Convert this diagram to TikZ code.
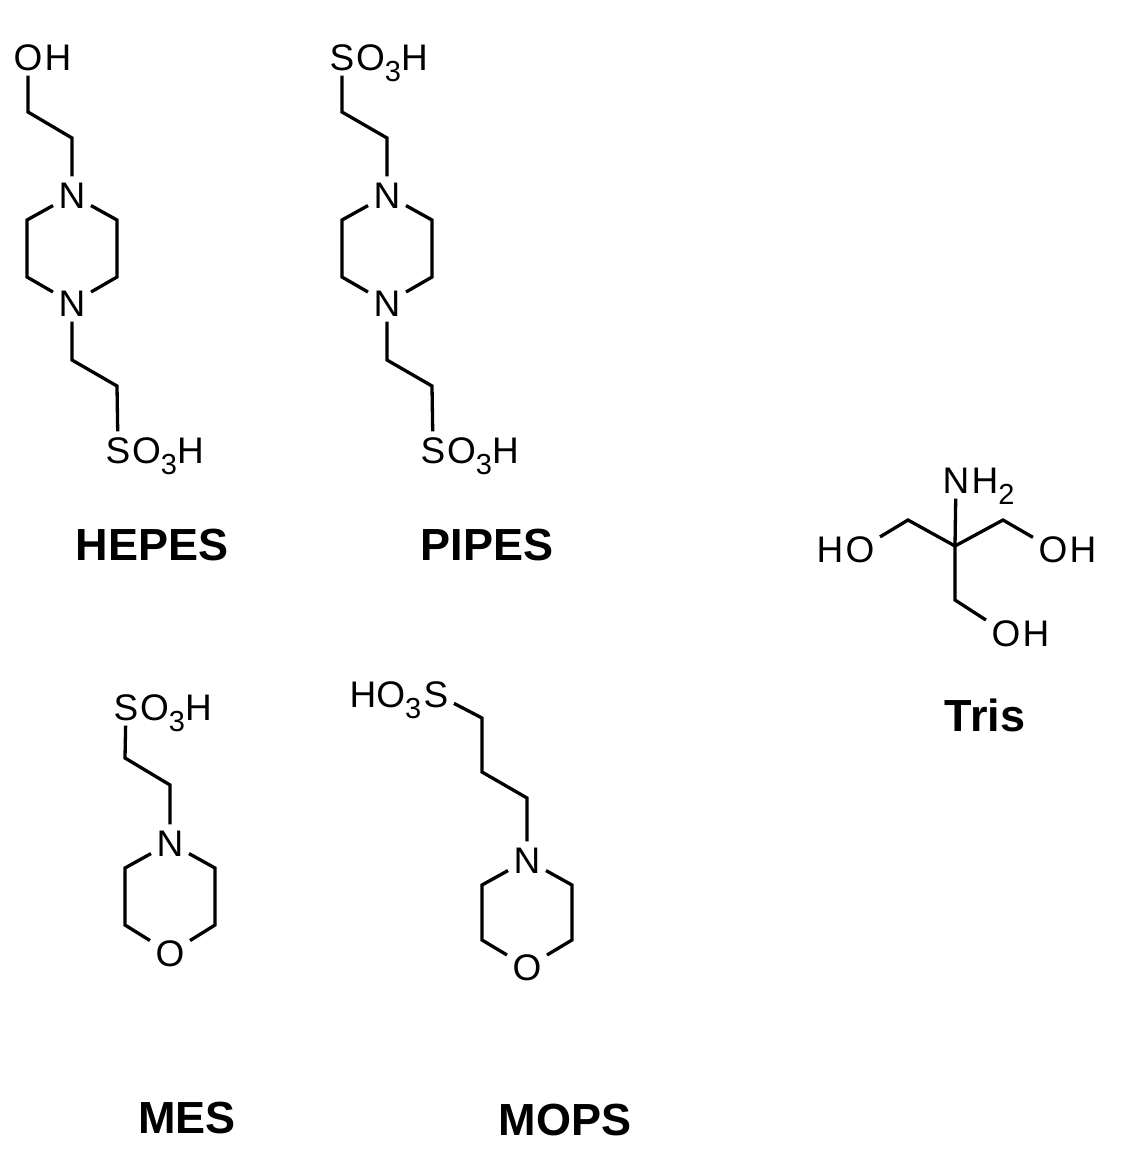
\documentclass[tikz,border=0pt]{standalone}
\usepackage{fontspec}
\setmainfont{Liberation Sans}
\newcommand{\sbs}[1]{\raisebox{-0.3em}{\fontsize{29}{29}\selectfont #1}}
\begin{document}
\begin{tikzpicture}[x=1pt,y=-1pt,line width=3.3pt,
  atom/.style={font=\fontsize{37}{37}\selectfont, inner sep=4pt, text height=26pt, text depth=0pt},
  rest/.style={font=\fontsize{37}{37}\selectfont, inner sep=0pt},
  title/.style={font=\fontsize{45}{45}\selectfont\bfseries, inner sep=0pt}]
\useasboundingbox (0,0) rectangle (1125,1168);
% ---------- HEPES
\node[atom] (hO) at (28,57) {O};
\node[rest,anchor=base west,xshift=-5pt] at (hO.base east) {H};
\coordinate (h1) at (28,112); \coordinate (h2) at (72,138);
\node[atom] (hN1) at (72,195) {N};
\coordinate (h3) at (27,220); \coordinate (h4) at (27,277);
\coordinate (h5) at (117,220); \coordinate (h6) at (117,277);
\node[atom] (hN2) at (72,303) {N};
\coordinate (h7) at (72,360); \coordinate (h8) at (117,386);
\node[atom] (hS) at (118,450) {S};
\node[rest,anchor=base west,xshift=-5.5pt] at (hS.base east) {O\sbs{3}H};
\draw (hO) -- (h1) -- (h2) -- (hN1);
\draw (hN1) -- (h3) -- (h4) -- (hN2) -- (h6) -- (h5) -- (hN1);
\draw (hN2) -- (h7) -- (h8) -- (hS);
\node[title] (hepes) at (152,545) {HEPES};
% ---------- PIPES
\node[atom] (pS1) at (342,57) {S};
\node[rest,anchor=base west,xshift=-5.5pt] at (pS1.base east) {O\sbs{3}H};
\coordinate (p1) at (342,112); \coordinate (p2) at (387,138);
\node[atom] (pN1) at (387,195) {N};
\coordinate (p3) at (342,220); \coordinate (p4) at (342,277);
\coordinate (p5) at (432,220); \coordinate (p6) at (432,277);
\node[atom] (pN2) at (387,303) {N};
\coordinate (p7) at (387,360); \coordinate (p8) at (432,386);
\node[atom] (pS2) at (433,450) {S};
\node[rest,anchor=base west,xshift=-5.5pt] at (pS2.base east) {O\sbs{3}H};
\draw (pS1) -- (p1) -- (p2) -- (pN1);
\draw (pN1) -- (p3) -- (p4) -- (pN2) -- (p6) -- (p5) -- (pN1);
\draw (pN2) -- (p7) -- (p8) -- (pS2);
\node[title] (pipes) at (487,545) {PIPES};
% ---------- MES
\node[atom] (mS) at (126,707) {S};
\node[rest,anchor=base west,xshift=-5.5pt] at (mS.base east) {O\sbs{3}H};
\coordinate (m1) at (125,758); \coordinate (m2) at (170,785);
\node[atom] (mN) at (170,843) {N};
\coordinate (m3) at (125,868); \coordinate (m4) at (125,925);
\coordinate (m5) at (215,868); \coordinate (m6) at (215,925);
\node[atom] (mO) at (170,953) {O};
\draw (mS) -- (m1) -- (m2) -- (mN);
\draw (mN) -- (m3) -- (m4) -- (mO) -- (m6) -- (m5) -- (mN);
\node[title] (mes) at (187,1118) {MES};
% ---------- MOPS
\node[atom] (oS) at (436,694) {S};
\node[rest,anchor=base east,xshift=5pt] at (oS.base west) {HO\sbs{3}};
\coordinate (o1) at (482,718); \coordinate (o2) at (482,772);
\coordinate (o3) at (527,798);
\node[atom] (oN) at (527,860) {N};
\coordinate (o4) at (482,885); \coordinate (o5) at (482,940);
\coordinate (o6) at (572,885); \coordinate (o7) at (572,940);
\node[atom] (oO) at (527,967) {O};
\draw (oS) -- (o1) -- (o2) -- (o3) -- (oN);
\draw (oN) -- (o4) -- (o5) -- (oO) -- (o7) -- (o6) -- (oN);
\node[title] (mops) at (565,1120) {MOPS};
% ---------- Tris
\node[atom] (tN) at (956,480) {N};
\node[rest,anchor=base west,xshift=-5pt] at (tN.base east) {H\sbs{2}};
\coordinate (tc) at (955,546);
\coordinate (t1) at (908,520); \coordinate (t2) at (1003,520);
\coordinate (t3) at (955,600);
\node[atom] (tO1) at (860,549) {O};
\node[rest,anchor=base east,xshift=5pt] at (tO1.base west) {H};
\node[atom] (tO2) at (1053,549) {O};
\node[rest,anchor=base west,xshift=-5pt] at (tO2.base east) {H};
\node[atom] (tO3) at (1006,633) {O};
\node[rest,anchor=base west,xshift=-5pt] at (tO3.base east) {H};
\draw (tN) -- (tc);
\draw (tO1) -- (t1) -- (tc) -- (t2) -- (tO2);
\draw (tc) -- (t3) -- (tO3);
\node[title] (tris) at (985,715) {Tris};
\end{tikzpicture}
\end{document}
